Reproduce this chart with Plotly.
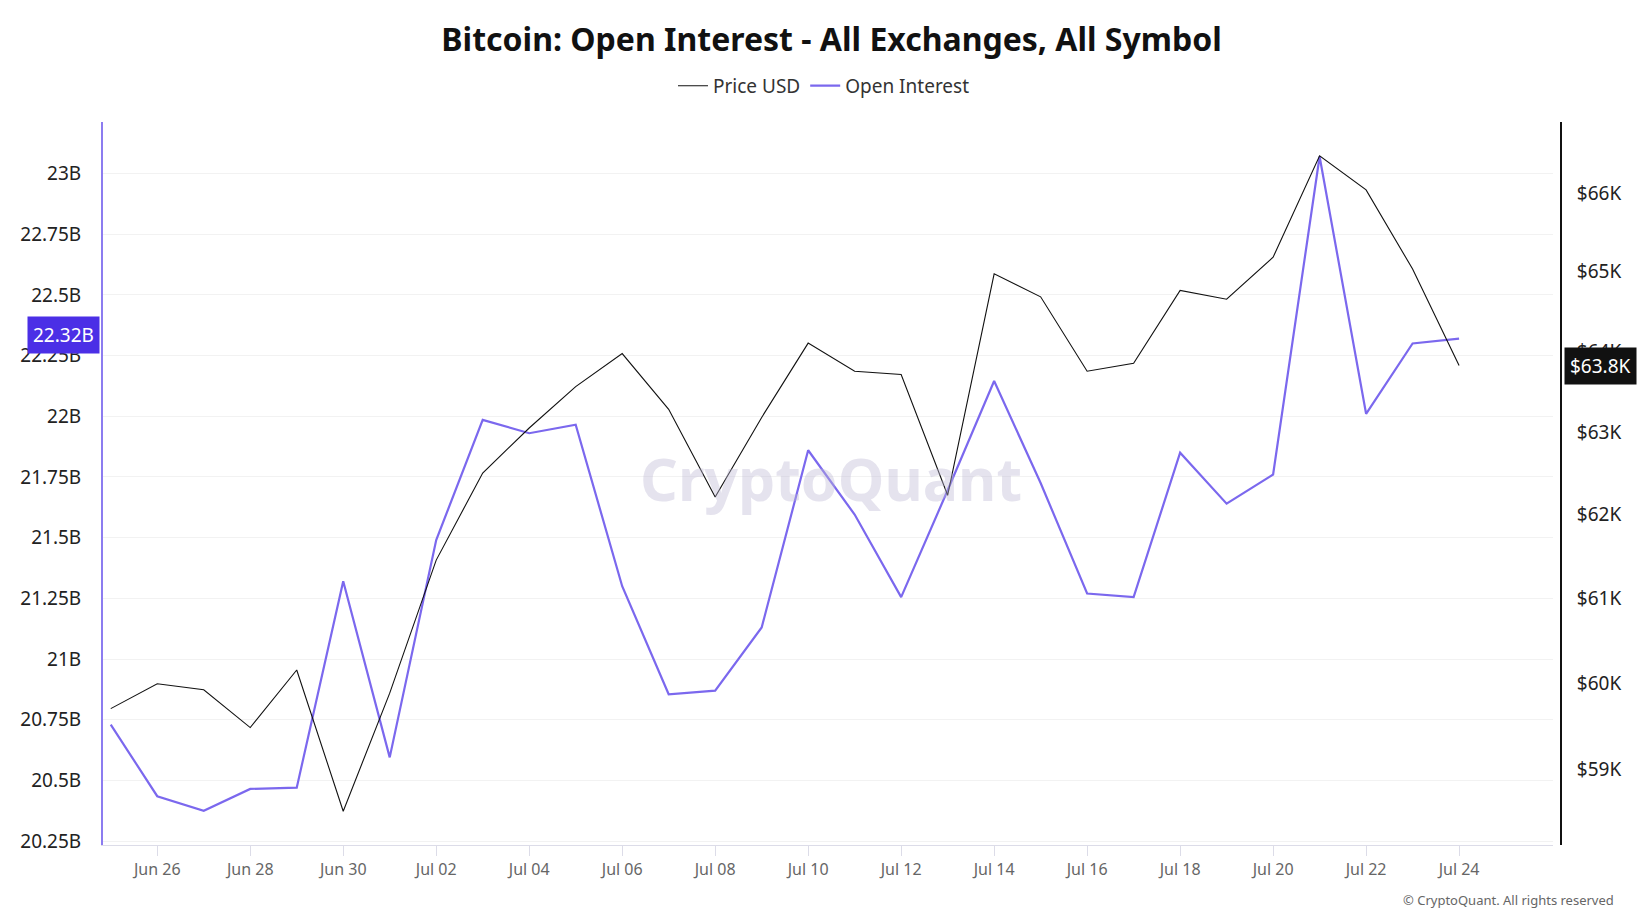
import math
import pandas as pd
import plotly.graph_objects as go

# daily data, Jun 25 - Jul 24
dates = pd.date_range("2024-06-25", "2024-07-24", freq="D")

price_usd = [59700, 59990, 59920, 59480, 60150, 58520, 59880, 61450, 62500, 63050,
             63560, 63970, 63280, 62210, 63180, 64100, 63750, 63710, 62230, 64970,
             64680, 63750, 63850, 64760, 64650, 65180, 66480, 66040, 65030, 63820]

open_interest = [20.73, 20.435, 20.375, 20.465, 20.47, 21.32, 20.595, 21.49, 21.985, 21.93,
                 21.965, 21.30, 20.855, 20.87, 21.13, 21.86, 21.595, 21.255, 21.695, 22.145,
                 21.725, 21.27, 21.255, 21.85, 21.64, 21.76, 23.07, 22.01, 22.30, 22.32]
open_interest = [v * 1e9 for v in open_interest]

oi_tickvals = [20.25e9, 20.5e9, 20.75e9, 21e9, 21.25e9, 21.5e9, 21.75e9,
               22e9, 22.25e9, 22.5e9, 22.75e9, 23e9]
oi_ticktext = ["20.25B", "20.5B", "20.75B", "21B", "21.25B", "21.5B", "21.75B",
               "22B", "22.25B", "22.5B", "22.75B", "23B"]
price_tickvals = [59000, 60000, 61000, 62000, 63000, 64000, 65000, 66000]
price_ticktext = ["$59K", "$60K", "$61K", "$62K", "$63K", "$64K", "$65K", "$66K"]

PURPLE = "#7b68ee"
FONT = "Noto Sans"

fig = go.Figure()
fig.add_trace(go.Scatter(x=dates, y=price_usd, name="Price USD", mode="lines",
                         line=dict(color="#111111", width=1.1), yaxis="y2"))
fig.add_trace(go.Scatter(x=dates, y=open_interest, name="Open Interest", mode="lines",
                         line=dict(color=PURPLE, width=2.2), yaxis="y"))

last_oi = open_interest[-1]
last_price = price_usd[-1]

fig.update_layout(
    width=1647, height=921,
    paper_bgcolor="white", plot_bgcolor="white",
    margin=dict(l=89, r=94, t=114, b=84),
    font=dict(family=FONT, color="#222222"),
    title=dict(text="<b>Bitcoin: Open Interest - All Exchanges, All Symbol</b>",
               x=0.5, xanchor="center", y=1 - 32 / 921, yanchor="middle",
               font=dict(size=32, color="#111111")),
    legend=dict(orientation="h", x=0.4945, xanchor="center", y=1.05, yanchor="middle",
                font=dict(size=19, color="#333333"), itemwidth=30),
    showlegend=True,
    xaxis=dict(
        domain=[0, 0.99454],
        range=[pd.Timestamp("2024-06-24 20:00"), pd.Timestamp("2024-07-26 00:30")],
        tickvals=list(dates[1::2]), tickformat="%b %d",
        showgrid=False, showline=True, linecolor="#dcdce8", linewidth=1,
        ticks="outside", ticklen=10, tickcolor="#dcdce8",
        tickfont=dict(size=16, color="#666666"), zeroline=False,
    ),
    yaxis=dict(
        range=[20.234e9, 23.212e9],
        tickvals=oi_tickvals, ticktext=oi_ticktext,
        showgrid=True, gridcolor="#f2f2f2", gridwidth=1,
        showline=True, linecolor="#8c7cf0", linewidth=2,
        ticks="", ticklabelstandoff=16,
        tickfont=dict(size=19, color="#222222"), zeroline=False,
    ),
    yaxis2=dict(
        type="log", overlaying="y", side="right", anchor="free", position=1,
        range=[4.76445, 4.82554],
        tickvals=price_tickvals, ticktext=price_ticktext,
        showgrid=False, showline=True, linecolor="#111111", linewidth=2,
        ticks="", ticklabelstandoff=11,
        tickfont=dict(size=19, color="#222222"), zeroline=False,
    ),
)

# watermark
fig.add_annotation(text="<b>CryptoQuant</b>", xref="paper", yref="paper",
                   x=0.4993, y=0.5076, showarrow=False,
                   font=dict(size=59, color="rgba(190,186,212,0.4)", family=FONT))

# last-value labels on axes
fig.add_annotation(text=f"{last_oi / 1e9:.2f}B", xref="paper", yref="y",
                   x=0, y=last_oi, xanchor="right", yanchor="middle", xshift=-3, yshift=4,
                   showarrow=False, bgcolor="#4b2fe6", borderpad=5,
                   font=dict(size=19, color="white"))
fig.add_annotation(text=f"${last_price / 1000:.1f}K", xref="paper", yref="y2",
                   x=1, y=math.log10(last_price), xanchor="left", yanchor="middle", xshift=3,
                   showarrow=False, bgcolor="#111111", borderpad=5,
                   font=dict(size=19, color="white"))

fig.add_annotation(text="© CryptoQuant. All rights reserved", xref="paper", yref="paper",
                   x=1.038, y=-0.076, xanchor="right", yanchor="middle", showarrow=False,
                   font=dict(size=13, color="#666666"))

fig.write_html("out.html")
